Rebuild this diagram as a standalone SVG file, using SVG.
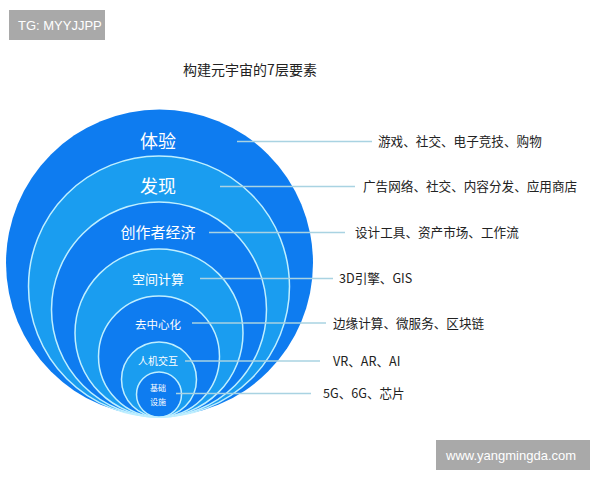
<svg xmlns="http://www.w3.org/2000/svg" width="600" height="480" viewBox="0 0 600 480">
<style>
.dark{fill:#0e7cf0;stroke:#bfefff;stroke-width:1.5}
.light{fill:#1a9df0;stroke:#bfefff;stroke-width:1.5}
.outer{fill:#0e7cf0}
.lbl{font-family:"Noto Sans CJK SC","Noto Sans",sans-serif;fill:#ffffff;text-anchor:middle}
.desc{font-family:"Noto Sans CJK SC","Noto Sans",sans-serif;fill:#222222;font-size:12.6px}
.conn line{stroke:#a9d3e2;stroke-width:1.5}
.wm{font-family:"Liberation Sans","Noto Sans",sans-serif;fill:#ffffff;font-size:13px}
</style>
<rect width="600" height="480" fill="#ffffff"/>
<g id="wm-top"><rect x="9" y="10" width="96" height="30" fill="#a9a9a9"/><text class="wm" x="18" y="30">TG: MYYJJPP</text></g>
<text id="title" x="250" y="75" font-family="Noto Sans CJK SC, Noto Sans, sans-serif" font-size="14" fill="#222222" text-anchor="middle">构建元宇宙的7层要素</text>
<g id="layer1"><circle class="outer" cx="159.5" cy="263" r="153.5"/></g>
<g id="layer2"><circle class="light" cx="159" cy="286.5" r="130.5"/></g>
<g id="layer3"><circle class="dark" cx="159" cy="309.5" r="107.5"/></g>
<g id="layer4"><circle class="light" cx="159" cy="333" r="84"/></g>
<g id="layer5"><circle class="dark" cx="159" cy="356.5" r="60.5"/></g>
<g id="layer6"><circle class="light" cx="159" cy="379.5" r="37.5"/></g>
<g id="layer7"><circle class="dark" cx="159" cy="394.5" r="22.5"/></g>
<g id="connectors" class="conn">
<line x1="237" y1="141.5" x2="372" y2="141.5"/>
<line x1="220" y1="186.5" x2="355" y2="186.5"/>
<line x1="209" y1="232.5" x2="345" y2="232.5"/>
<line x1="200" y1="278.5" x2="333" y2="278.5"/>
<line x1="192" y1="323" x2="326" y2="323"/>
<line x1="185" y1="361" x2="320" y2="361"/>
<line x1="176" y1="393.5" x2="311" y2="393.5"/>
</g>
<g id="labels">
<text class="lbl" x="158" y="148" font-size="18">体验</text>
<text class="lbl" x="158" y="193" font-size="18">发现</text>
<text class="lbl" x="158" y="238" font-size="15">创作者经济</text>
<text class="lbl" x="158" y="284" font-size="13">空间计算</text>
<text class="lbl" x="158" y="329" font-size="11.5">去中心化</text>
<text class="lbl" x="158" y="365" font-size="10">人机交互</text>
<text class="lbl" x="158" y="391" font-size="8">基础</text>
<text class="lbl" x="158" y="405" font-size="8">设施</text>
</g>
<g id="descs">
<text class="desc" x="378" y="146">游戏、社交、电子竞技、购物</text>
<text class="desc" x="363" y="191">广告网络、社交、内容分发、应用商店</text>
<text class="desc" x="355" y="237">设计工具、资产市场、工作流</text>
<text class="desc" x="339" y="283">3D引擎、GIS</text>
<text class="desc" x="333" y="327.5">边缘计算、微服务、区块链</text>
<text class="desc" x="333" y="365.5">VR、AR、AI</text>
<text class="desc" x="323" y="398">5G、6G、芯片</text>
</g>
<g id="wm-bottom"><rect x="436" y="440" width="154" height="30" fill="#a9a9a9"/><text class="wm" x="446" y="460">www.yangmingda.com</text></g>
</svg>
